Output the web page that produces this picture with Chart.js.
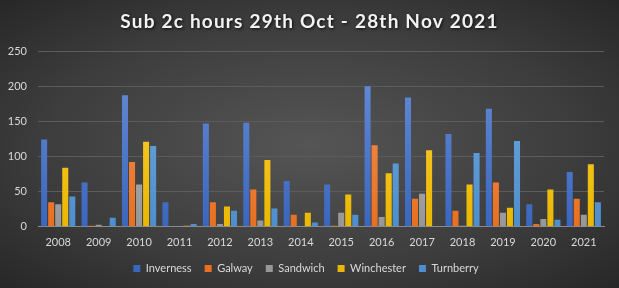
<!DOCTYPE html>
<html>
<head>
<meta charset="utf-8">
<script src="https://cdn.jsdelivr.net/npm/chart.js@4.4.0/dist/chart.umd.min.js"></script>
<style>
  html, body { margin: 0; padding: 0; }
  #wrap {
    width: 619px; height: 288px;
    background: radial-gradient(ellipse at center, #555555 0%, #3d3d3d 60%, #272727 100%);
  }
</style>
</head>
<body>
<div id="wrap"><canvas id="chart" width="619" height="288"></canvas></div>
<script>
const years = ['2008','2009','2010','2011','2012','2013','2014','2015','2016','2017','2018','2019','2020','2021'];
const inverness  = [124, 63, 187, 35, 147, 148, 65, 60, 200, 184, 132, 168, 32, 78];
const galway     = [35, 1.5, 92, 0, 35, 53, 17, 1.5, 116, 40, 23, 63, 4, 40];
const sandwich   = [32, 3, 60, 0, 4, 9, 0, 20, 14, 47, 1.5, 20, 11, 17];
const winchester = [84, 0, 121, 1.5, 29, 95, 20, 46, 76, 109, 60, 27, 53, 89];
const turnberry  = [43, 13, 115, 4, 23, 26, 6, 17, 90, 0, 105, 122, 10, 35];
const yTicks = [0, 50, 100, 150, 200, 250];
const chartTitle = 'Sub 2c hours 29th Oct - 28th Nov 2021';

const colours = {
  Inverness:  ['#6a8fd6', '#3a66bd'],
  Galway:     ['#f59560', '#e8701f'],
  Sandwich:   ['#bdbdbd', '#979797'],
  Winchester: ['#ffd040', '#eab800'],
  Turnberry:  ['#72ace0', '#4d8ecd']
};
const fontName = 'Lato';

// Excel-ish vertical gradient on each bar
function barFill(name) {
  return (ctx) => {
    const chart = ctx.chart;
    const area = chart.chartArea;
    if (!area) return colours[name][1];
    const g = chart.ctx.createLinearGradient(0, area.top, 0, area.bottom);
    g.addColorStop(0, colours[name][0]);
    g.addColorStop(1, colours[name][1]);
    return g;
  };
}

function makeSet(label, data) {
  return {
    label: label,
    data: data,
    backgroundColor: barFill(label),
    borderWidth: 0,
    barPercentage: 0.86,
    categoryPercentage: 0.87
  };
}

// title drawn by hand so it can get letter spacing and a shadow
const spacedTitle = {
  id: 'spacedTitle',
  afterDraw(chart) {
    const c = chart.ctx;
    c.save();
    c.font = 'bold 19px ' + fontName;
    c.letterSpacing = '1.2px';
    c.fillStyle = '#f2f2f2';
    c.textAlign = 'center';
    c.textBaseline = 'middle';
    c.shadowColor = 'rgba(0,0,0,0.8)';
    c.shadowBlur = 3;
    c.shadowOffsetX = 1;
    c.shadowOffsetY = 1;
    c.fillText(chartTitle, chart.width / 2, 22);
    c.restore();
  }
};

new Chart(document.getElementById('chart'), {
  type: 'bar',
  data: {
    labels: years,
    datasets: [
      makeSet('Inverness', inverness),
      makeSet('Galway', galway),
      makeSet('Sandwich', sandwich),
      makeSet('Winchester', winchester),
      makeSet('Turnberry', turnberry)
    ]
  },
  plugins: [spacedTitle],
  options: {
    responsive: false,
    animation: false,
    layout: { padding: { left: 8, right: 15, top: 51, bottom: 4 } },
    plugins: {
      title: { display: false },
      legend: {
        position: 'bottom',
        labels: {
          color: '#d9d9d9',
          font: { family: fontName, size: 11 },
          boxWidth: 7,
          boxHeight: 7,
          padding: 13
        }
      },
      tooltip: { enabled: false }
    },
    scales: {
      x: {
        grid: { display: false },
        border: { color: '#8c8c8c', width: 1 },
        ticks: { color: '#d9d9d9', font: { family: fontName, size: 11 }, padding: 1 }
      },
      y: {
        min: 0,
        max: 250,
        afterBuildTicks: (axis) => { axis.ticks = yTicks.map(v => ({ value: v })); },
        afterFit: (axis) => { axis.width = 30; },
        grid: { color: '#5c5c5c', lineWidth: 1, drawTicks: false },
        border: { display: false },
        ticks: { color: '#d9d9d9', font: { family: fontName, size: 11 }, padding: 11 }
      }
    }
  }
});
</script>
</body>
</html>
